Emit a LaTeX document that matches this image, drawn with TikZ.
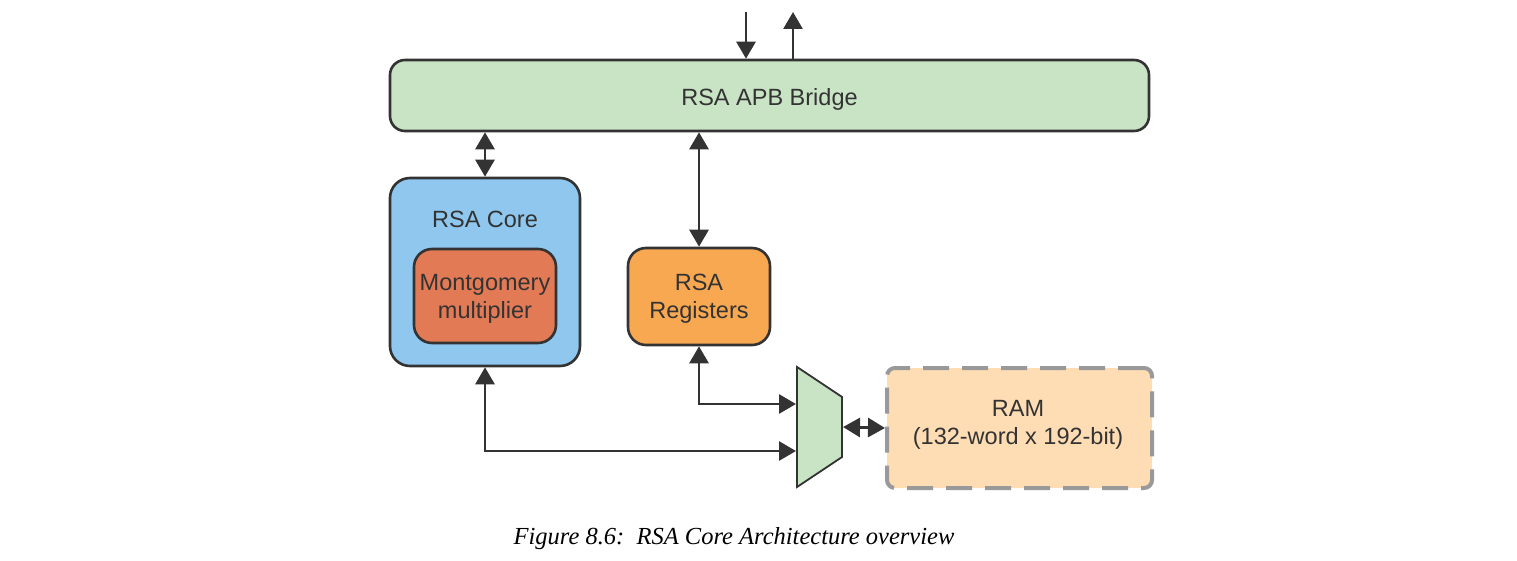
\documentclass[tikz,border=0pt]{standalone}
\usepackage{fontspec}
\setmainfont{Liberation Sans}
\newfontfamily\capfont{Liberation Serif}
\usetikzlibrary{arrows.meta}
\definecolor{ink}{HTML}{333333}
\definecolor{brgreen}{HTML}{C9E4C5}
\definecolor{coreblue}{HTML}{8FC7EE}
\definecolor{montred}{HTML}{E27A56}
\definecolor{regorange}{HTML}{F9A852}
\definecolor{rampeach}{HTML}{FEDCB4}
\definecolor{dashgray}{HTML}{999999}
\tikzset{
  lbl/.style={text=ink, align=center, font=\fontsize{23.5}{28}\selectfont},
  blk/.style={draw=ink, line width=2.6pt, rounded corners=#1, lbl, inner sep=0pt},
  blk/.default=18pt,
  conn/.style={draw=ink, line width=2.8pt, {Triangle[length=17pt,width=19pt]}-{Triangle[length=17pt,width=19pt]}},
  conn1/.style={draw=ink, line width=2.8pt, -{Triangle[length=17pt,width=19pt]}},
}
\begin{document}
\begin{tikzpicture}[x=1pt,y=-1pt]
\useasboundingbox (0,0) rectangle (1517,561);
\node[blk=15pt, fill=brgreen, minimum width=759pt, minimum height=71pt] (bridge) at (769.5,95.5) {};
\node[lbl] (bridgetxt) at (769.5,99) {RSA APB Bridge};
\node[blk=20pt, fill=coreblue, minimum width=190pt, minimum height=188pt] (core) at (485,272) {};
\node[lbl] (coretitle) at (485,219) {RSA Core};
\node[blk, fill=montred, minimum width=142pt, minimum height=94pt] (mont) at (485,296) {};
\node[lbl] (monttxt) at (485,299) {Montgomery\\multiplier};
\node[blk, fill=regorange, minimum width=142pt, minimum height=97pt] (regs) at (699,296.5) {};
\node[lbl] (regstxt) at (699,299) {RSA\\Registers};
\node[draw=dashgray, line width=4pt, dash pattern=on 26pt off 13pt, rounded corners=8pt, fill=rampeach,
  inner sep=0pt, minimum width=265pt, minimum height=120pt] (ram) at (1019.5,428) {};
\node[lbl] (ramtxt) at (1018,425) {RAM\\(132-word x 192-bit)};
% mux
\draw[draw=ink, line width=1.8pt, fill=brgreen] (797,367) -- (842,397) -- (842,457) -- (797,487) -- cycle;
\coordinate (muxa) at (796,404);
\coordinate (muxb) at (796,451);
\coordinate (muxr) at (843,427);
% top arrows
\coordinate (inp) at (746,12);
\coordinate (outp) at (793,12);
\draw[conn1] (inp) -- (inp |- bridge.north);
\draw[conn1] (outp |- bridge.north) -- (outp);
% connectors
\draw[conn] (core.north) -- (core.north |- bridge.south);
\draw[conn] (regs.north) -- (regs.north |- bridge.south);
\draw[conn] (regs.south) |- (muxa);
\draw[conn] (core.south) |- (muxb);
\draw[conn] (muxr) -- (ram.west);
% caption
\node[font=\capfont\itshape\fontsize{24.5}{28}\selectfont, text=black] (cap) at (734,539) {Figure 8.6:\ \ RSA Core Architecture overview};
\end{tikzpicture}
\end{document}
